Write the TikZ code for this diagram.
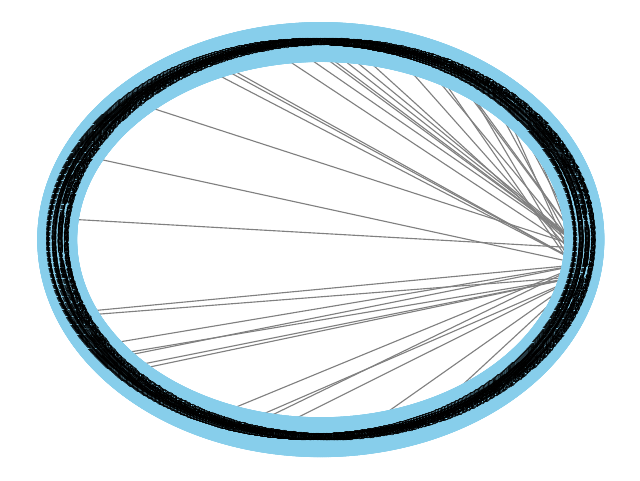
\documentclass[tikz,border=0pt]{standalone}
\usepackage{fontspec}
\setmainfont{DejaVu Sans}
\usetikzlibrary{backgrounds}
\definecolor{cSky}{HTML}{87CEEB}
\definecolor{cEdge}{HTML}{808080}

\begin{document}
\begin{tikzpicture}[font=\fontsize{6.8}{7}\selectfont,
  vert/.style={circle,fill=cSky,minimum size=1cm,inner sep=0pt},
  lab/.style={inner sep=0pt,text=black},
  link/.style={cEdge,line width=0.8pt}]
\useasboundingbox (-8.02,-6.01) rectangle (7.98,5.99);

% vertices on the ellipse
\foreach \i in {0,...,999}
  \node[vert] (n\i) at (\i*0.36:6.59cm and 4.94cm) {};

% links, under the vertices
\begin{scope}[on background layer]
\foreach \s/\t in {993/107,993/127,980/143,970/163,993/167,993/170,970/183,
                   980/207,993/243,993/250,993/257,993/260,993/270,980/113,
                   970/133,987/190,987/233,987/283}
  \draw[link] (n\s) -- (n\t);
\foreach \s/\t in {980/317,980/320,980/327,993/377,980/430,993/483,980/560,
                   980/590,980/603,980/680,980/703}
  \draw[link] (n\s) -- (n\t);
\foreach \s/\t in {970/563,970/600,970/613,970/617,970/697,970/717,
                   970/770,970/813}
  \draw[link] (n\s) -- (n\t);
\end{scope}

% labels on top
\foreach \i in {0,...,999} {
  \pgfmathtruncatemacro\lab{1000+\i}
  \node[lab] (l\i) at (n\i) {\lab};
}
\end{tikzpicture}
\end{document}
